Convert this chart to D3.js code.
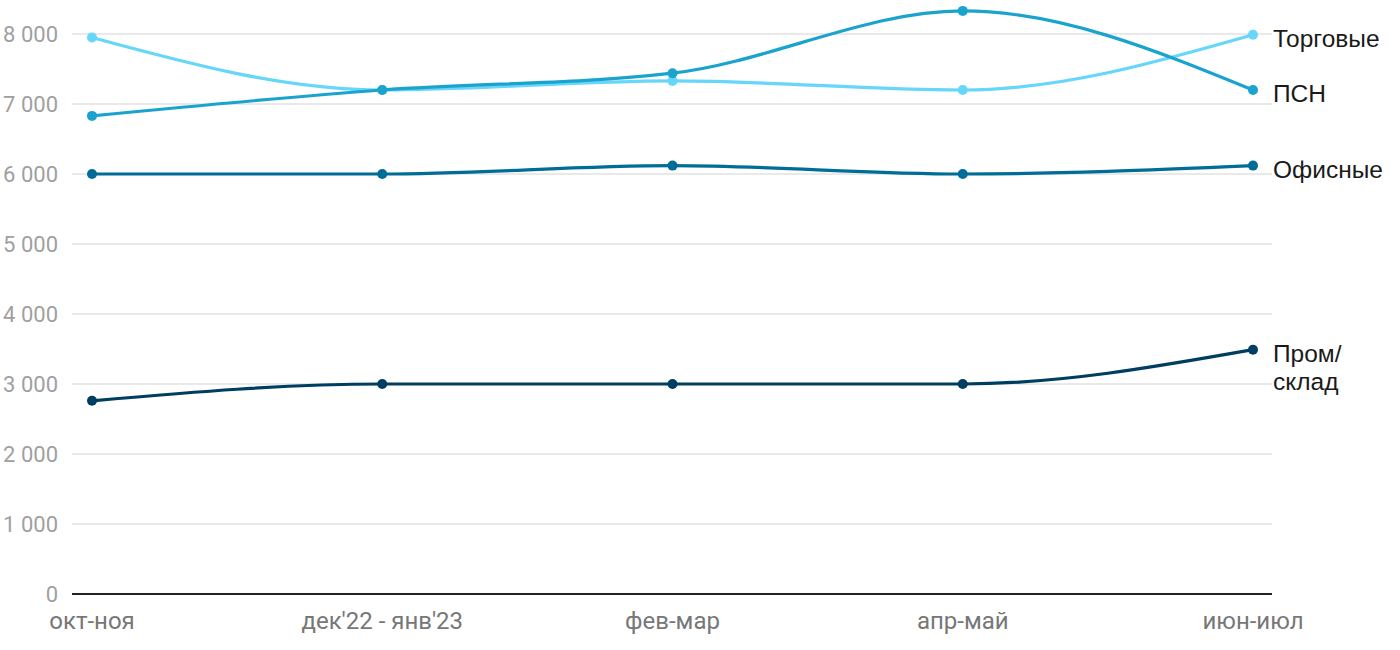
<!DOCTYPE html>
<html><head><meta charset="utf-8">
<script src="https://cdn.jsdelivr.net/npm/d3@7"></script>
<style>body{margin:0;background:#fff}svg{display:block}</style>
</head><body>
<svg id="c" width="1400" height="650"></svg>
<script>
const categories = ["окт-ноя", "дек'22 - янв'23", "фев-мар", "апр-май", "июн-июл"];
const torgovye = [7950, 7200, 7330, 7200, 7990];
const psn = [6830, 7200, 7440, 8330, 7200];
const ofisnye = [6000, 6000, 6120, 6000, 6120];
const promSklad = [2760, 3000, 3000, 3000, 3490];
const yTicks = [0, 1000, 2000, 3000, 4000, 5000, 6000, 7000, 8000];
const seriesNames = [["Торговые"], ["ПСН"], ["Офисные"], ["Пром/", "склад"]];
const seriesColors = ["#66d6fa", "#1aa3cf", "#006d98", "#003e61"];

const series = [torgovye, psn, ofisnye, promSklad];
const svg = d3.select("#c");
const x = d3.scalePoint().domain(categories).range([92, 1253]);
const y = d3.scaleLinear().domain([0, 8000]).range([594, 34]);
const gridX0 = 72, gridX1 = 1272;

const fmt = v => d3.format(",")(v).replace(/,/g, " ");

// gridlines
svg.append("g").selectAll("line").data(yTicks.filter(t => t > 0)).join("line")
  .attr("x1", gridX0).attr("x2", gridX1)
  .attr("y1", d => y(d)).attr("y2", d => y(d))
  .attr("stroke", "#e2e2e2").attr("stroke-width", 1.5);

// y labels
svg.append("g").selectAll("text").data(yTicks).join("text")
  .attr("x", 58).attr("y", d => y(d)).attr("dy", "0.36em")
  .attr("text-anchor", "end")
  .attr("font-family", "Roboto, sans-serif").attr("font-size", 22)
  .attr("fill", "#a0a0a0").text(fmt);

// baseline
svg.append("line").attr("x1", gridX0).attr("x2", gridX1)
  .attr("y1", y(0)).attr("y2", y(0)).attr("stroke", "#222").attr("stroke-width", 2);

// x labels
svg.append("g").selectAll("text").data(categories).join("text")
  .attr("x", d => x(d)).attr("y", 629)
  .attr("text-anchor", "middle")
  .attr("font-family", "Roboto, sans-serif").attr("font-size", 24)
  .attr("fill", "#777").text(d => d);

const line = d3.line().x((d, i) => x(categories[i])).y(d => y(d)).curve(d3.curveMonotoneX);

series.forEach((s, k) => {
  const g = svg.append("g");
  g.append("path").attr("d", line(s)).attr("fill", "none")
    .attr("stroke", seriesColors[k]).attr("stroke-width", 3.2);
  g.selectAll("circle").data(s).join("circle")
    .attr("cx", (d, i) => x(categories[i])).attr("cy", d => y(d)).attr("r", 5)
    .attr("fill", seriesColors[k]);
  const last = s[s.length - 1];
  const t = g.append("text").attr("x", 1273)
    .attr("y", y(last) + 12)
    .attr("font-family", "'Liberation Sans', Arial, sans-serif").attr("font-size", 24.5)
    .attr("fill", "#1a1a1a");
  seriesNames[k].forEach((ln, j) => t.append("tspan").attr("x", 1273).attr("dy", j === 0 ? 0 : 28).text(ln));
});
</script>
</body></html>
